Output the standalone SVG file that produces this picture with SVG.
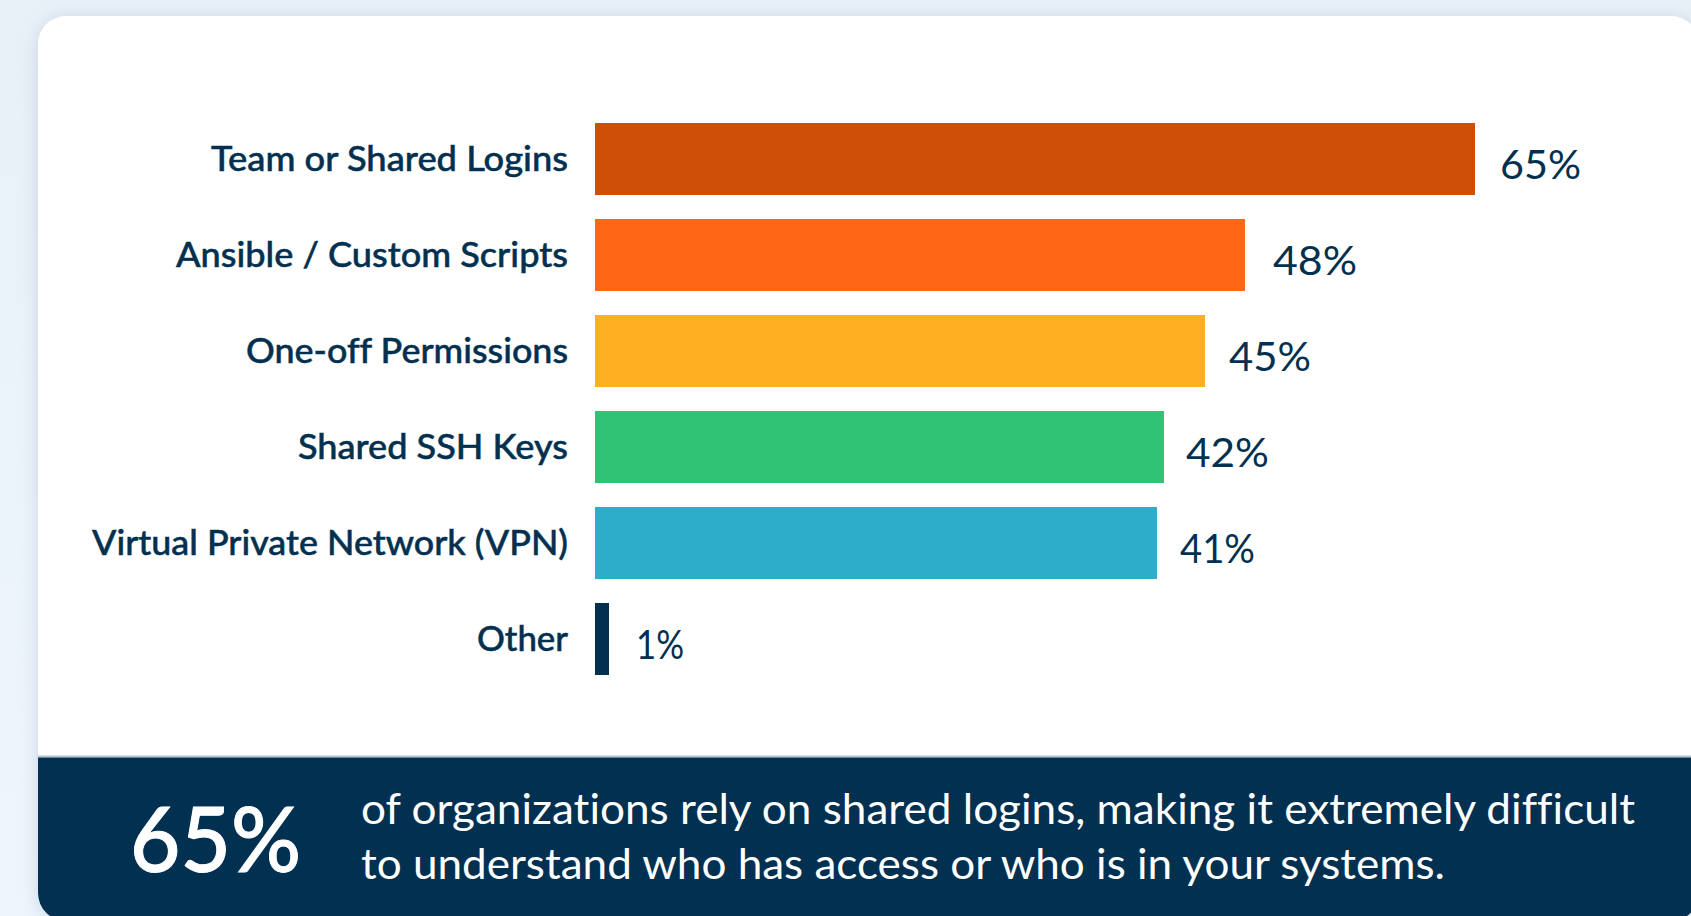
<svg xmlns="http://www.w3.org/2000/svg" width="1691" height="916" viewBox="0 0 1691 916">
  <defs>
    <linearGradient id="bg" x1="0" y1="0" x2="0" y2="1">
      <stop offset="0" stop-color="#E8F0F8"/>
      <stop offset="1" stop-color="#EEF5FD"/>
    </linearGradient>
    <filter id="shadow" x="-10%" y="-10%" width="120%" height="120%">
      <feDropShadow dx="0" dy="2" stdDeviation="9" flood-color="#8FA3B8" flood-opacity="0.35"/>
    </filter>
    <clipPath id="cardClip">
      <rect x="38" y="16" width="1661" height="905" rx="28" ry="28"/>
    </clipPath>
  </defs>
  <style>
    text { font-variant-ligatures: none; font-feature-settings: "liga" 0, "dlig" 0; }
    .label { font-family: Lato, "Liberation Sans", sans-serif; font-size: 34px; font-weight: 500; fill: #03304F; stroke: #03304F; stroke-width: 0.5px; text-anchor: end; }
    .value { font-family: Lato, "Liberation Sans", sans-serif; font-size: 41px; font-weight: 400; fill: #03304F; }
    .big { font-family: Lato, "Liberation Sans", sans-serif; font-size: 90px; font-weight: 500; fill: #FFFFFF; stroke: #FFFFFF; stroke-width: 1px; }
    .foot { font-family: Lato, "Liberation Sans", sans-serif; font-size: 42px; font-weight: 400; fill: #FFFFFF; }
  </style>

  <rect x="0" y="0" width="1691" height="916" fill="url(#bg)"/>

  <g id="card">
    <rect x="38" y="16" width="1661" height="905" rx="28" ry="28" fill="#FFFFFF" filter="url(#shadow)"/>
    <g clip-path="url(#cardClip)">
      <rect x="38" y="755.5" width="1661" height="2" fill="#B8C3CE"/>
      <rect x="38" y="757.5" width="1661" height="170" fill="#023051"/>
    </g>
  </g>

  <g id="bar-team">
    <rect x="595" y="123" width="880" height="72" fill="#CF4F06"/>
    <text class="label" x="568" y="171" textLength="357" lengthAdjust="spacingAndGlyphs">Team or Shared Logins</text>
    <text class="value" x="1500" y="179" textLength="81" lengthAdjust="spacingAndGlyphs">65%</text>
  </g>
  <g id="bar-ansible">
    <rect x="595" y="219" width="650" height="72" fill="#FD6716"/>
    <text class="label" x="568" y="267" textLength="392" lengthAdjust="spacingAndGlyphs">Ansible / Custom Scripts</text>
    <text class="value" x="1273" y="275" textLength="84" lengthAdjust="spacingAndGlyphs">48%</text>
  </g>
  <g id="bar-oneoff">
    <rect x="595" y="315" width="610" height="72" fill="#FFAF22"/>
    <text class="label" x="568" y="363" textLength="322" lengthAdjust="spacingAndGlyphs">One-off Permissions</text>
    <text class="value" x="1229" y="371" textLength="82" lengthAdjust="spacingAndGlyphs">45%</text>
  </g>
  <g id="bar-ssh">
    <rect x="595" y="411" width="569" height="72" fill="#30C275"/>
    <text class="label" x="568" y="459" textLength="270" lengthAdjust="spacingAndGlyphs">Shared SSH Keys</text>
    <text class="value" x="1186" y="467" textLength="83" lengthAdjust="spacingAndGlyphs">42%</text>
  </g>
  <g id="bar-vpn">
    <rect x="595" y="507" width="562" height="72" fill="#2EADCA"/>
    <text class="label" x="568" y="555" textLength="476" lengthAdjust="spacingAndGlyphs">Virtual Private Network (VPN)</text>
    <text class="value" x="1180" y="563" textLength="75" lengthAdjust="spacingAndGlyphs">41%</text>
  </g>
  <g id="bar-other">
    <rect x="595" y="603" width="14" height="72" fill="#03304F"/>
    <text class="label" x="568" y="651" textLength="91" lengthAdjust="spacingAndGlyphs">Other</text>
    <text class="value" x="636" y="659" textLength="48" lengthAdjust="spacingAndGlyphs">1%</text>
  </g>

  <g id="footer-text">
    <text class="big" x="130" y="872" textLength="171" lengthAdjust="spacingAndGlyphs">65%</text>
    <text class="foot" x="361" y="824" textLength="1274" lengthAdjust="spacingAndGlyphs">of organizations rely on shared logins, making it extremely difficult</text>
    <text class="foot" x="361" y="879" textLength="1084" lengthAdjust="spacingAndGlyphs">to understand who has access or who is in your systems.</text>
  </g>

  <g id="connectors"/>
</svg>
